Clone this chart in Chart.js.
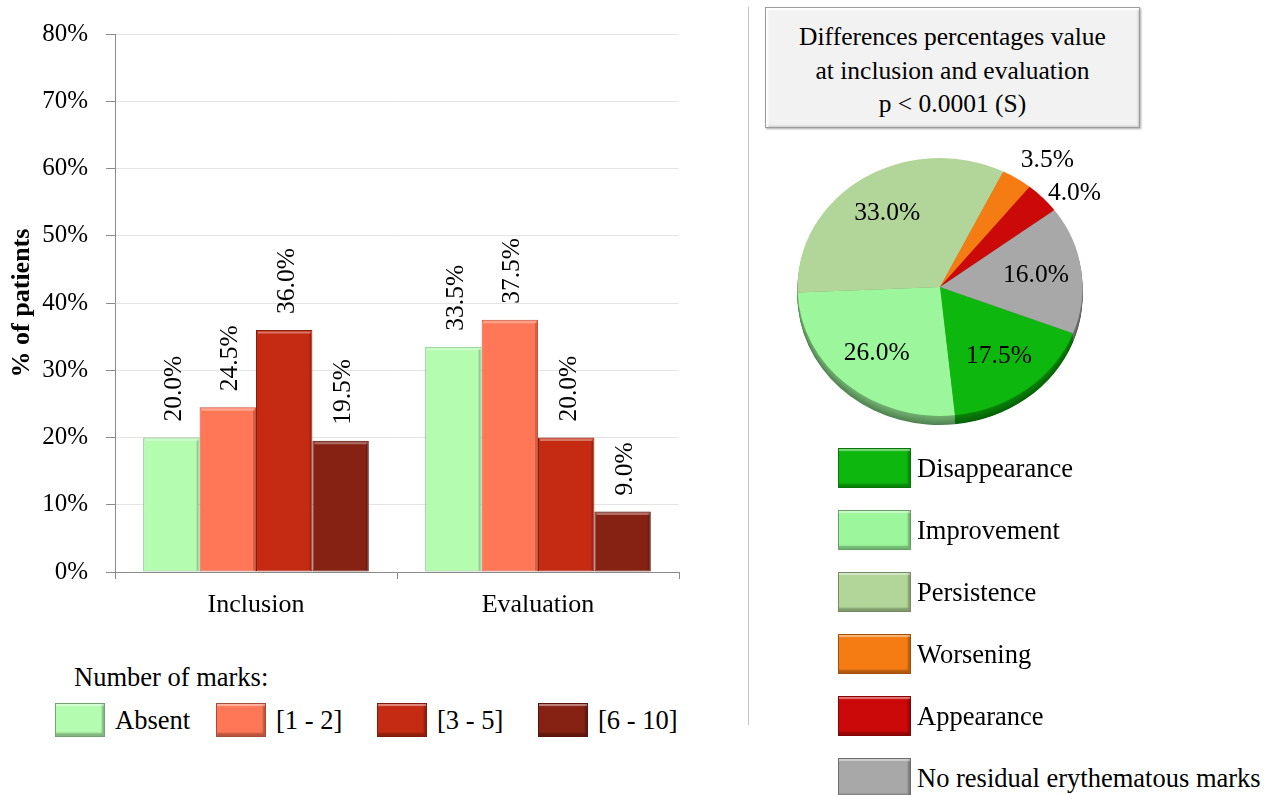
<!DOCTYPE html>
<html>
<head>
<meta charset="utf-8">
<script src="https://cdn.jsdelivr.net/npm/chart.js@4.4.1/dist/chart.umd.min.js"></script>
<style>
  html, body { margin: 0; padding: 0; background: #fff; }
  body {
    width: 1281px; height: 795px; position: relative; overflow: hidden;
    font-family: "Liberation Serif", "Times New Roman", serif; color: #000;
  }
  #barCanvas { position: absolute; left: 0; top: 0; }
  #pieCanvas { position: absolute; left: 760px; top: 130px; }
  .divider { position: absolute; left: 748px; top: 7px; width: 1px; height: 718px; background: #c4c4c4; }
  .titlebox {
    position: absolute; left: 765px; top: 7px; width: 375px; height: 121px;
    box-sizing: border-box; background: #f2f2f2; border: 1px solid #9d9d9d;
    box-shadow: inset 2px 2px 2px #ffffff, inset -1px -1px 2px #c8c8c8, 1px 1px 2px rgba(0,0,0,0.35);
    text-align: center; font-size: 25.5px; line-height: 33.5px; padding-top: 12px;
  }
  .marks-caption { position: absolute; left: 74px; top: 662px; font-size: 26.5px; line-height: 30px; white-space: nowrap; }
  .item { position: absolute; display: flex; align-items: center; white-space: nowrap; font-size: 26.5px; }
  .sw {
    box-sizing: border-box; border: 1px solid rgba(0,0,0,0.35); margin-right: 10px;
    box-shadow: inset 0 3px 1px -1px rgba(255,255,255,0.45), inset -2px -3px 2px rgba(0,0,0,0.28);
  }
</style>
</head>
<body>
<canvas id="barCanvas" width="700" height="640"></canvas>
<div class="divider"></div>
<div class="titlebox" id="titleBox"></div>
<canvas id="pieCanvas" width="360" height="320"></canvas>
<div class="marks-caption" id="marksCaption"></div>
<div id="marksLegend"></div>
<div id="outcomeLegend"></div>

<script>
// ---- data ----
const categories = ['Inclusion', 'Evaluation'];
const markGroups = ['Absent', '[1 - 2]', '[3 - 5]', '[6 - 10]'];
const absentPct = [20.0, 33.5];
const oneToTwoPct = [24.5, 37.5];
const threeToFivePct = [36.0, 20.0];
const sixToTenPct = [19.5, 9.0];
const yTickValues = [0, 10, 20, 30, 40, 50, 60, 70, 80];

const outcomeLabels = ['Disappearance', 'Improvement', 'Persistence', 'Worsening', 'Appearance', 'No residual erythematous marks'];
const outcomePct = [17.5, 26.0, 33.0, 3.5, 4.0, 16.0];

const yAxisTitle = '% of patients';
const marksCaption = 'Number of marks:';
const titleLines = ['Differences percentages value', 'at inclusion and evaluation', 'p < 0.0001 (S)'];

// ---- styles ----
const markColors = ['#b3fcb0', '#ff7756', '#c52b12', '#852214'];
const markBorders = ['#7fbd7d', '#c4563a', '#8c1c0a', '#52130b'];
const outcomeColors = ['#0db70d', '#9cf79c', '#b2d699', '#f57c12', '#cc0909', '#a8a8a8'];
const serif = '"Liberation Serif", "Times New Roman", serif';

Chart.defaults.color = '#000';
Chart.defaults.font.family = serif;

function shade(hex, f) {
  const n = parseInt(hex.slice(1), 16);
  const r = Math.round(((n >> 16) & 255) * f), g = Math.round(((n >> 8) & 255) * f), b = Math.round((n & 255) * f);
  return `rgb(${r},${g},${b})`;
}

// rotated percentage above every bar, plus a thin bevel highlight
const barValueLabels = {
  id: 'barValueLabels',
  afterDatasetsDraw(chart) {
    const ctx = chart.ctx;
    chart.data.datasets.forEach((ds, di) => {
      chart.getDatasetMeta(di).data.forEach((bar, i) => {
        const half = bar.width / 2;
        ctx.save();
        ctx.strokeStyle = 'rgba(255,255,255,0.35)';
        ctx.lineWidth = 2;
        ctx.beginPath();
        ctx.moveTo(bar.x - half + 2, bar.y + 2.5);
        ctx.lineTo(bar.x + half - 2, bar.y + 2.5);
        ctx.stroke();
        ctx.strokeStyle = 'rgba(0,0,0,0.18)';
        ctx.beginPath();
        ctx.moveTo(bar.x + half - 2, bar.y + 3);
        ctx.lineTo(bar.x + half - 2, bar.base - 1);
        ctx.stroke();
        ctx.restore();

        ctx.save();
        ctx.translate(bar.x + 9.5, bar.y - 16);
        ctx.rotate(-Math.PI / 2);
        ctx.font = '25.5px ' + serif;
        ctx.fillStyle = '#000';
        ctx.textAlign = 'left';
        ctx.textBaseline = 'alphabetic';
        ctx.fillText(ds.data[i].toFixed(1) + '%', 0, 0);
        ctx.restore();
      });
    });
  }
};

const barSeries = [absentPct, oneToTwoPct, threeToFivePct, sixToTenPct];

new Chart(document.getElementById('barCanvas'), {
  type: 'bar',
  data: {
    labels: categories,
    datasets: markGroups.map((name, i) => ({
      label: name,
      data: barSeries[i],
      backgroundColor: markColors[i],
      borderColor: markBorders[i],
      borderWidth: 1,
      borderSkipped: false,
      categoryPercentage: 0.8,
      barPercentage: 1.0
    }))
  },
  options: {
    responsive: false,
    animation: false,
    layout: { padding: { left: 0, right: 21, top: 34, bottom: 0 } },
    plugins: { legend: { display: false }, tooltip: { enabled: false } },
    scales: {
      x: {
        grid: { display: true, drawOnChartArea: false, offset: true, tickLength: 7, tickColor: '#8a8a8a' },
        border: { color: '#8a8a8a' },
        ticks: { font: { size: 26 }, padding: 11 },
        afterFit(scale) { scale.height = 68; }
      },
      y: {
        min: 0, max: 80,
        afterBuildTicks(scale) { scale.ticks = yTickValues.map(v => ({ value: v })); },
        ticks: { font: { size: 25 }, padding: 18, callback: v => v + '%' },
        grid: { color: '#e4e4e4', tickColor: '#8a8a8a', tickLength: 9 },
        border: { color: '#8a8a8a' },
        title: { display: true, text: yAxisTitle, font: { size: 26, weight: 'bold' }, padding: { top: 7, bottom: 0 } },
        afterFit(scale) { scale.width = 115; }
      }
    }
  },
  plugins: [barValueLabels]
});

// slightly tilted pie with a shaded rim and percentage labels
const SQUASH = 0.905, DEPTH = 9;
const tiltedPie = {
  id: 'tiltedPie',
  beforeDatasetsDraw(chart) {
    const ctx = chart.ctx;
    const arcs = chart.getDatasetMeta(0).data;
    const cx = arcs[0].x, cy = arcs[0].y;
    ctx.save();
    ctx.translate(cx, cy);
    ctx.scale(1, SQUASH);
    ctx.translate(-cx, -cy);
    for (let d = DEPTH / SQUASH; d >= 1; d -= 1) {
      arcs.forEach((arc, i) => {
        ctx.beginPath();
        ctx.moveTo(cx, cy + d);
        ctx.arc(cx, cy + d, arc.outerRadius, arc.startAngle, arc.endAngle);
        ctx.closePath();
        ctx.fillStyle = shade(outcomeColors[i], 0.55 + 0.02 * (DEPTH - d));
        ctx.fill();
      });
    }
  },
  afterDatasetsDraw(chart) {
    const ctx = chart.ctx;
    ctx.restore();
    const arcs = chart.getDatasetMeta(0).data;
    const values = chart.data.datasets[0].data;
    ctx.save();
    ctx.font = '25.5px ' + serif;
    ctx.fillStyle = '#000';
    ctx.textBaseline = 'middle';
    // outside labels for thin slices are stacked so they never overlap
    let lastOutsideY = Infinity;
    for (let i = arcs.length - 1; i >= 0; i--) {
      const arc = arcs[i];
      const mid = (arc.startAngle + arc.endAngle) / 2;
      const outside = values[i] < 5;
      const f = outside ? 1.05 : 0.68;
      const x = arc.x + Math.cos(mid) * arc.outerRadius * f;
      let y = arc.y + Math.sin(mid) * arc.outerRadius * f * SQUASH;
      if (outside) {
        y = Math.min(y, lastOutsideY - 33);
        lastOutsideY = y;
        ctx.textAlign = 'left';
      } else {
        ctx.textAlign = 'center';
      }
      ctx.fillText(values[i].toFixed(1) + '%', x, y);
    }
    ctx.restore();
  }
};

new Chart(document.getElementById('pieCanvas'), {
  type: 'pie',
  data: {
    labels: outcomeLabels,
    datasets: [{ data: outcomePct, backgroundColor: outcomeColors, borderWidth: 0 }]
  },
  options: {
    responsive: false,
    animation: false,
    rotation: 111,
    layout: { padding: { left: 37.5, right: 37.5, top: 14.5, bottom: 20.5 } },
    plugins: { legend: { display: false }, tooltip: { enabled: false } }
  },
  plugins: [tiltedPie]
});

// ---- text blocks and legends ----
const titleBox = document.getElementById('titleBox');
titleLines.forEach(t => {
  const line = document.createElement('div');
  line.textContent = t;
  titleBox.appendChild(line);
});
document.getElementById('marksCaption').textContent = marksCaption;

const marksLegend = document.getElementById('marksLegend');
markGroups.forEach((name, i) => {
  const item = document.createElement('div');
  item.className = 'item';
  item.style.left = (55 + i * 161) + 'px';
  item.style.top = '703px';
  item.style.height = '34px';
  const sw = document.createElement('div');
  sw.className = 'sw';
  sw.style.width = '50px'; sw.style.height = '34px';
  sw.style.background = markColors[i];
  const tx = document.createElement('span');
  tx.textContent = name;
  item.appendChild(sw); item.appendChild(tx);
  marksLegend.appendChild(item);
});

const outcomeLegend = document.getElementById('outcomeLegend');
outcomeLabels.forEach((name, i) => {
  const item = document.createElement('div');
  item.className = 'item';
  item.style.left = '838px';
  item.style.top = (448 + i * 62) + 'px';
  item.style.height = '40px';
  const sw = document.createElement('div');
  sw.className = 'sw';
  sw.style.width = '73px'; sw.style.height = '40px';
  sw.style.marginRight = '6px';
  sw.style.background = outcomeColors[i];
  const tx = document.createElement('span');
  tx.textContent = name;
  item.appendChild(sw); item.appendChild(tx);
  outcomeLegend.appendChild(item);
});
</script>
</body>
</html>
